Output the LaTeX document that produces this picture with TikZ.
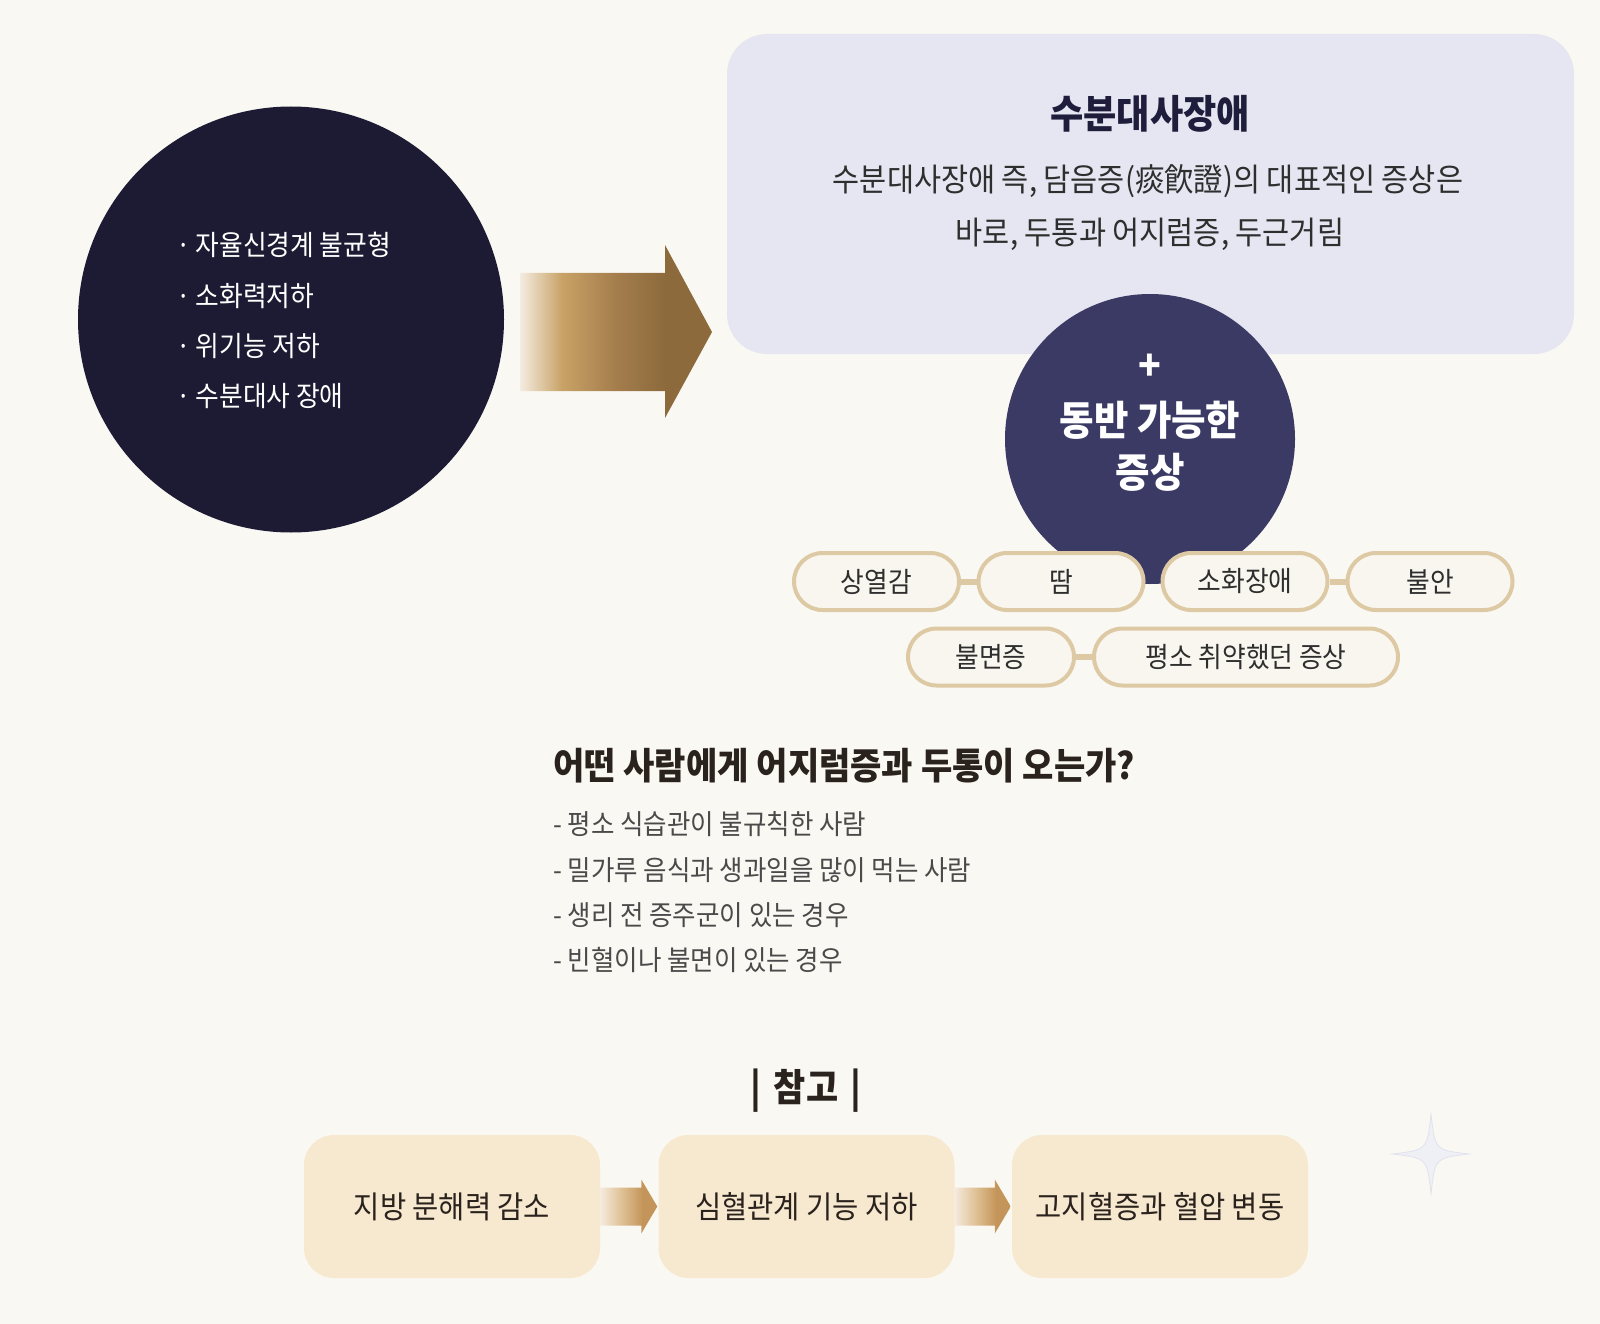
\documentclass[tikz,border=0pt]{standalone}
\usepackage{fontspec}
\setmainfont{Noto Sans CJK KR}[FakeStretch=0.92]
\usetikzlibrary{calc}
\definecolor{bg}{HTML}{FAF8F3}
\definecolor{navyA}{HTML}{1C1B33}
\definecolor{navyB}{HTML}{3A3A64}
\definecolor{lav}{HTML}{E6E6F2}
\definecolor{pillf}{HTML}{F9F6EF}
\definecolor{pillb}{HTML}{DEC9A5}
\definecolor{boxf}{HTML}{F7E8D0}
\definecolor{txt}{HTML}{2E2E2E}
\definecolor{gtxt}{HTML}{4A4A4A}
\definecolor{btxt}{HTML}{2A221C}
\definecolor{ttl}{HTML}{1E1E3C}
\definecolor{sparkf}{HTML}{EFEFF6}
\definecolor{sparkb}{HTML}{E2E2EE}
\definecolor{arrA}{HTML}{F4ECE0}
\definecolor{arrB}{HTML}{C8A266}
\definecolor{arrC}{HTML}{A47D4C}
\definecolor{arrD}{HTML}{8C6A3C}
\definecolor{sarA}{HTML}{F5EBDD}
\definecolor{sarB}{HTML}{DDBE90}
\definecolor{sarC}{HTML}{C4955A}
\pgfdeclarehorizontalshading{bigarrow}{100bp}{color(0bp)=(arrA); color(25bp)=(arrA); color(36bp)=(arrB); color(50bp)=(arrC); color(63bp)=(arrD); color(100bp)=(arrD)}
\pgfdeclarehorizontalshading{smallarrow}{100bp}{color(0bp)=(sarA); color(25bp)=(sarA); color(45bp)=(sarB); color(62bp)=(sarC); color(100bp)=(sarC)}
\begin{document}
\begin{tikzpicture}[x=1pt,y=-1pt,
  lefttext/.style={anchor=west, inner sep=0pt, text=white, font=\fontsize{28}{28}\selectfont},
  pill/.style={draw=pillb, line width=4pt, fill=pillf, rounded corners=28.5pt, minimum height=57pt, minimum width=165pt, inner sep=0pt, text=txt, font=\fontsize{28}{28}\selectfont},
  pilllink/.style={draw=pillb, line width=6pt},
  refbox/.style={fill=boxf, rounded corners=30pt, minimum width=296pt, minimum height=143pt, inner sep=0pt, text=btxt, font=\fontsize{31}{31}\selectfont},
  qline/.style={anchor=west, inner sep=0pt, text=gtxt, font=\fontsize{27.7}{27.7}\selectfont}
]
\fill[bg] (0,0) rectangle (1600,1324);
\useasboundingbox (0,0) rectangle (1600,1324);

% left circle
\node[circle, fill=navyA, minimum size=426pt, inner sep=0pt] (cause) at (291,319.5) {};
\node[lefttext] (c1) at (176,245) {·\hspace{5pt}자율신경계 불균형};
\node[lefttext] (c2) at (176,296) {·\hspace{5pt}소화력저하};
\node[lefttext] (c3) at (176,346) {·\hspace{5pt}위기능 저하};
\node[lefttext] (c4) at (176,396) {·\hspace{5pt}수분대사 장애};

% big arrow
\shade[shading=bigarrow] (520,273) -- (665,273) -- (665,245) -- (712,332) -- (665,418) -- (665,391) -- (520,391) -- cycle;

% top box
\node[fill=lav, rounded corners=40pt, minimum width=847pt, minimum height=320pt, inner sep=0pt] (box) at (1150.5,194) {};
\node[inner sep=0pt, text=ttl, font=\fontsize{39.3}{39.3}\selectfont\bfseries] (boxt) at (1150,114) {수분대사장애};
\node[inner sep=0pt, text=txt, font=\fontsize{32}{32}\selectfont] (boxl1) at (1148,181) {수분대사장애 즉, 담음증(痰飮證)의 대표적인 증상은};
\node[inner sep=0pt, text=txt, font=\fontsize{32}{32}\selectfont] (boxl2) at (1150,234) {바로, 두통과 어지럼증, 두근거림};

% small circle
\node[circle, fill=navyB, minimum size=290pt, inner sep=0pt] (comb) at (1150,439) {};
\node[inner sep=0pt, text=white, font=\fontsize{40.7}{40.7}\selectfont\bfseries] (plus) at (1150,367) {+};
\node[inner sep=0pt, text=white, font=\fontsize{40.7}{40.7}\selectfont\bfseries] (combt1) at (1150,420) {동반 가능한};
\node[inner sep=0pt, text=white, font=\fontsize{40.7}{40.7}\selectfont\bfseries] (combt2) at (1150,472) {증상};

% pills
\node[pill] (p1) at (876.5,581.5) {상열감};
\node[pill] (p2) at (1061,581.5) {땀};
\node[pill] (p3) at (1245,581.5) {소화장애};
\node[pill] (p4) at (1430,581.5) {불안};
\node[pill, minimum width=166pt] (p5) at (991,657) {불면증};
\node[pill, minimum width=304pt] (p6) at (1246,657) {평소 취약했던 증상};
\draw[pilllink] (p1.east) -- (p2.west);
\draw[pilllink] (p3.east) -- (p4.west);
\draw[pilllink] (p5.east) -- (p6.west);

% question
\node[anchor=west, inner sep=0pt, text=btxt, font=\fontsize{37}{37}\selectfont\bfseries] (q) at (553,766) {어떤 사람에게 어지럼증과 두통이 오는가?};
\node[qline] (q1) at (553,824) {- 평소 식습관이 불규칙한 사람};
\node[qline] (q2) at (553,870) {- 밀가루 음식과 생과일을 많이 먹는 사람};
\node[qline] (q3) at (553,915) {- 생리 전 증주군이 있는 경우};
\node[qline] (q4) at (553,960) {- 빈혈이나 불면이 있는 경우};

% reference
\node[inner sep=0pt, text=btxt, font=\fontsize{38}{38}\selectfont\bfseries] (ref) at (806,1091) {|\hspace{12pt}참고\hspace{12pt}|};
\node[refbox] (b1) at (452,1206.5) {지방 분해력 감소};
\node[refbox] (b2) at (806.5,1206.5) {심혈관계 기능 저하};
\node[refbox] (b3) at (1160,1206.5) {고지혈증과 혈압 변동};
\shade[shading=smallarrow] ($(b1.east)+(0,-19)$) -- ($(b2.west)+(-17,-19)$) -- ($(b2.west)+(-17,-27)$) -- ($(b2.west)+(-1,0)$) -- ($(b2.west)+(-17,27)$) -- ($(b2.west)+(-17,19)$) -- ($(b1.east)+(0,19)$) -- cycle;
\shade[shading=smallarrow] ($(b2.east)+(0,-19)$) -- ($(b3.west)+(-17,-19)$) -- ($(b3.west)+(-17,-27)$) -- ($(b3.west)+(-1,0)$) -- ($(b3.west)+(-17,27)$) -- ($(b3.west)+(-17,19)$) -- ($(b2.east)+(0,19)$) -- cycle;

% sparkle
\draw[fill=sparkf, draw=sparkb, line width=0.8pt] (1431,1114) .. controls (1435,1150) .. (1469,1154) .. controls (1435,1158) .. (1431,1194) .. controls (1427,1158) .. (1392,1154) .. controls (1427,1150) .. cycle;
\end{tikzpicture}
\end{document}
